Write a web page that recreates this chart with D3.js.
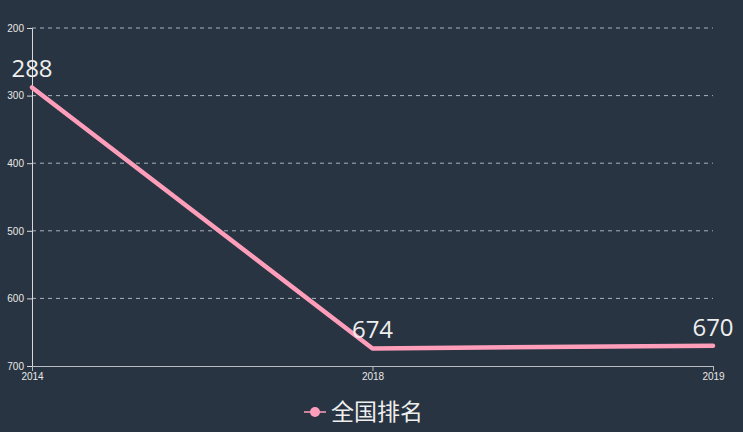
<!DOCTYPE html>
<html>
<head>
    <meta charset="utf-8">
    <script src="https://d3js.org/d3.v7.min.js"></script>
    <style>
        html, body { margin: 0; padding: 0; background: #283441; }
        svg { display: block; font-family: "Open Sans", "Noto Sans CJK SC", sans-serif; }
        .grid line { stroke: #aab2bb; stroke-dasharray: 4 4; stroke-width: 1; }
        .tick text { fill: #e8e8e8; font-size: 10px; }
    </style>
</head>
<body>
    <div id="chart"></div>
    <script>
        // data
        const years = ["2014", "2018", "2019"];
        const ranks = [288, 674, 670];
        const yTicks = [200, 300, 400, 500, 600, 700];
        const seriesName = "全国排名";

        const width = 743, height = 432;
        const margin = { top: 28, right: 30, bottom: 66, left: 32 };

        const svg = d3.select("#chart").append("svg")
            .attr("width", width)
            .attr("height", height);

        svg.append("rect")
            .attr("width", width).attr("height", height)
            .attr("fill", "#283441");

        const x = d3.scalePoint()
            .domain(years)
            .range([margin.left, width - margin.right]);

        // ranking: smaller is better, 200 on top
        const y = d3.scaleLinear()
            .domain([200, 700])
            .range([margin.top, height - margin.bottom]);

        // grid lines
        svg.append("g")
            .attr("class", "grid")
            .selectAll("line")
            .data(yTicks.slice(0, -1))
            .join("line")
            .attr("x1", margin.left)
            .attr("x2", width - margin.right)
            .attr("y1", d => y(d))
            .attr("y2", d => y(d));

        // y axis
        const yAxis = svg.append("g")
            .attr("transform", `translate(${margin.left},0)`)
            .call(d3.axisLeft(y).tickValues(yTicks).tickSize(5).tickPadding(3));
        yAxis.select(".domain").attr("stroke", "#d8d8d8");
        yAxis.selectAll(".tick line").attr("stroke", "#d8d8d8");

        // x axis
        const xAxis = svg.append("g")
            .attr("transform", `translate(0,${height - margin.bottom})`)
            .call(d3.axisBottom(x).tickSize(5).tickSizeOuter(0).tickPadding(2));
        xAxis.select(".domain").attr("stroke", "#b8bcc2");
        xAxis.selectAll(".tick line").attr("stroke", "#b8bcc2");

        // line
        const points = years.map((yr, i) => ({ year: yr, rank: ranks[i] }));
        const line = d3.line()
            .x(d => x(d.year))
            .y(d => y(d.rank));

        svg.append("path")
            .datum(points)
            .attr("fill", "none")
            .attr("stroke", "#ff9ebb")
            .attr("stroke-width", 4.5)
            .attr("stroke-linecap", "round")
            .attr("stroke-linejoin", "round")
            .attr("d", line);

        // value labels
        svg.append("g")
            .selectAll("text")
            .data(points)
            .join("text")
            .attr("x", d => x(d.year))
            .attr("y", d => y(d.rank) - 10)
            .attr("text-anchor", "middle")
            .attr("fill", "#eeeeee")
            .attr("font-size", 24)
            .text(d => d.rank);

        // legend
        const lg = svg.append("g").attr("transform", "translate(304,412)");
        lg.append("line")
            .attr("x1", 0).attr("x2", 22)
            .attr("stroke", "#ff9ebb").attr("stroke-width", 1.5);
        lg.append("circle")
            .attr("cx", 11).attr("r", 5)
            .attr("fill", "#ff9ebb");
        lg.append("text")
            .attr("x", 27).attr("y", 8)
            .attr("fill", "#eeeeee")
            .attr("font-size", 23)
            .text(seriesName);
    </script>
</body>
</html>
